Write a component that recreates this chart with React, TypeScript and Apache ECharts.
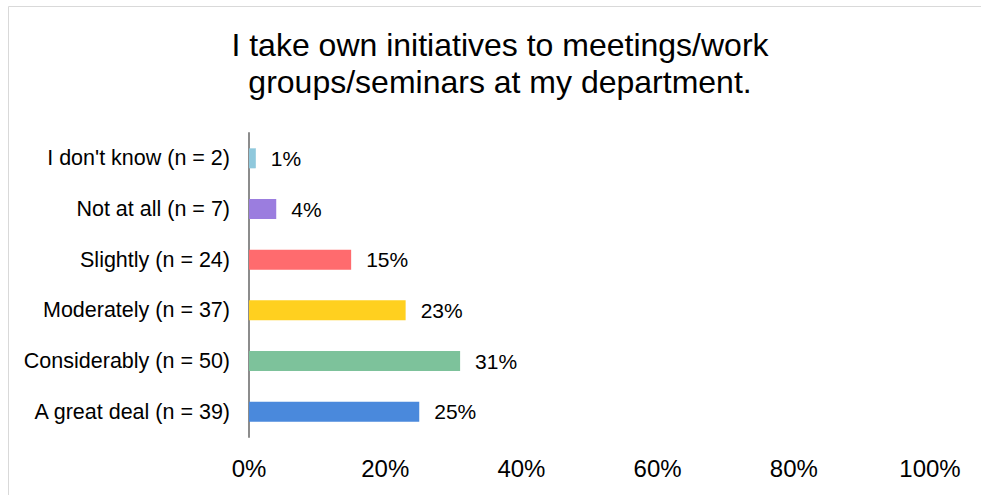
import React, { useEffect, useRef } from "react";
import * as echarts from "echarts";

const titleText = "I take own initiatives to meetings/work\ngroups/seminars at my department.";
const categories = [
  "I don't know (n = 2)",
  "Not at all (n = 7)",
  "Slightly (n = 24)",
  "Moderately (n = 37)",
  "Considerably (n = 50)",
  "A great deal (n = 39)",
];
const percentValues = [1, 4, 15, 23, 31, 25];
const barColors = ["#8fc8dc", "#9b7ddf", "#ff6b6e", "#ffd01f", "#7dc29b", "#4a89dc"];
const xTicks = { min: 0, max: 100, interval: 20 };

const FONT = "'Liberation Sans', Arial, sans-serif";

export default function App() {
  const ref = useRef<HTMLDivElement>(null);
  useEffect(() => {
    if (!ref.current) return;
    const chart = echarts.init(ref.current, undefined, { renderer: "svg" });
    chart.setOption({
      animation: false,
      backgroundColor: "#ffffff",
      title: {
        text: titleText,
        left: 500,
        top: 26,
        padding: 0,
        textAlign: "center",
        textStyle: {
          fontFamily: FONT,
          fontSize: 32,
          lineHeight: 37,
          fontWeight: "normal",
          color: "#000000",
        },
      },
      graphic: [
        {
          type: "rect",
          shape: { x: 8.5, y: 6.5, width: 1000, height: 600 },
          style: { fill: "none", stroke: "#d9d9d9", lineWidth: 1 },
          silent: true,
        },
      ],
      grid: { left: 249, right: 51, top: 133, bottom: 58, containLabel: false },
      xAxis: {
        type: "value",
        min: xTicks.min,
        max: xTicks.max,
        interval: xTicks.interval,
        axisLine: { show: false },
        axisTick: { show: false },
        splitLine: { show: false },
        axisLabel: {
          formatter: "{value}%",
          fontFamily: FONT,
          fontSize: 24,
          color: "#000000",
          margin: 19,
        },
      },
      yAxis: {
        type: "category",
        data: categories,
        inverse: true,
        axisLine: { show: true, lineStyle: { color: "#8c8c8c", width: 2 } },
        axisTick: { show: false },
        axisLabel: {
          fontFamily: FONT,
          fontSize: 21.5,
          color: "#000000",
          margin: 19,
        },
      },
      series: [
        {
          type: "bar",
          barWidth: 20,
          data: percentValues.map((v, i) => ({ value: v, itemStyle: { color: barColors[i] } })),
          label: {
            show: true,
            position: "right",
            distance: 15,
            formatter: (p: any) => `${Math.round(p.value)}%`,
            fontFamily: FONT,
            fontSize: 21,
            color: "#000000",
          },
        },
      ],
    });
    return () => chart.dispose();
  }, []);
  return (
    <div
      ref={ref}
      style={{ position: "absolute", left: 0, top: 0, width: 981, height: 495 }}
    />
  );
}
